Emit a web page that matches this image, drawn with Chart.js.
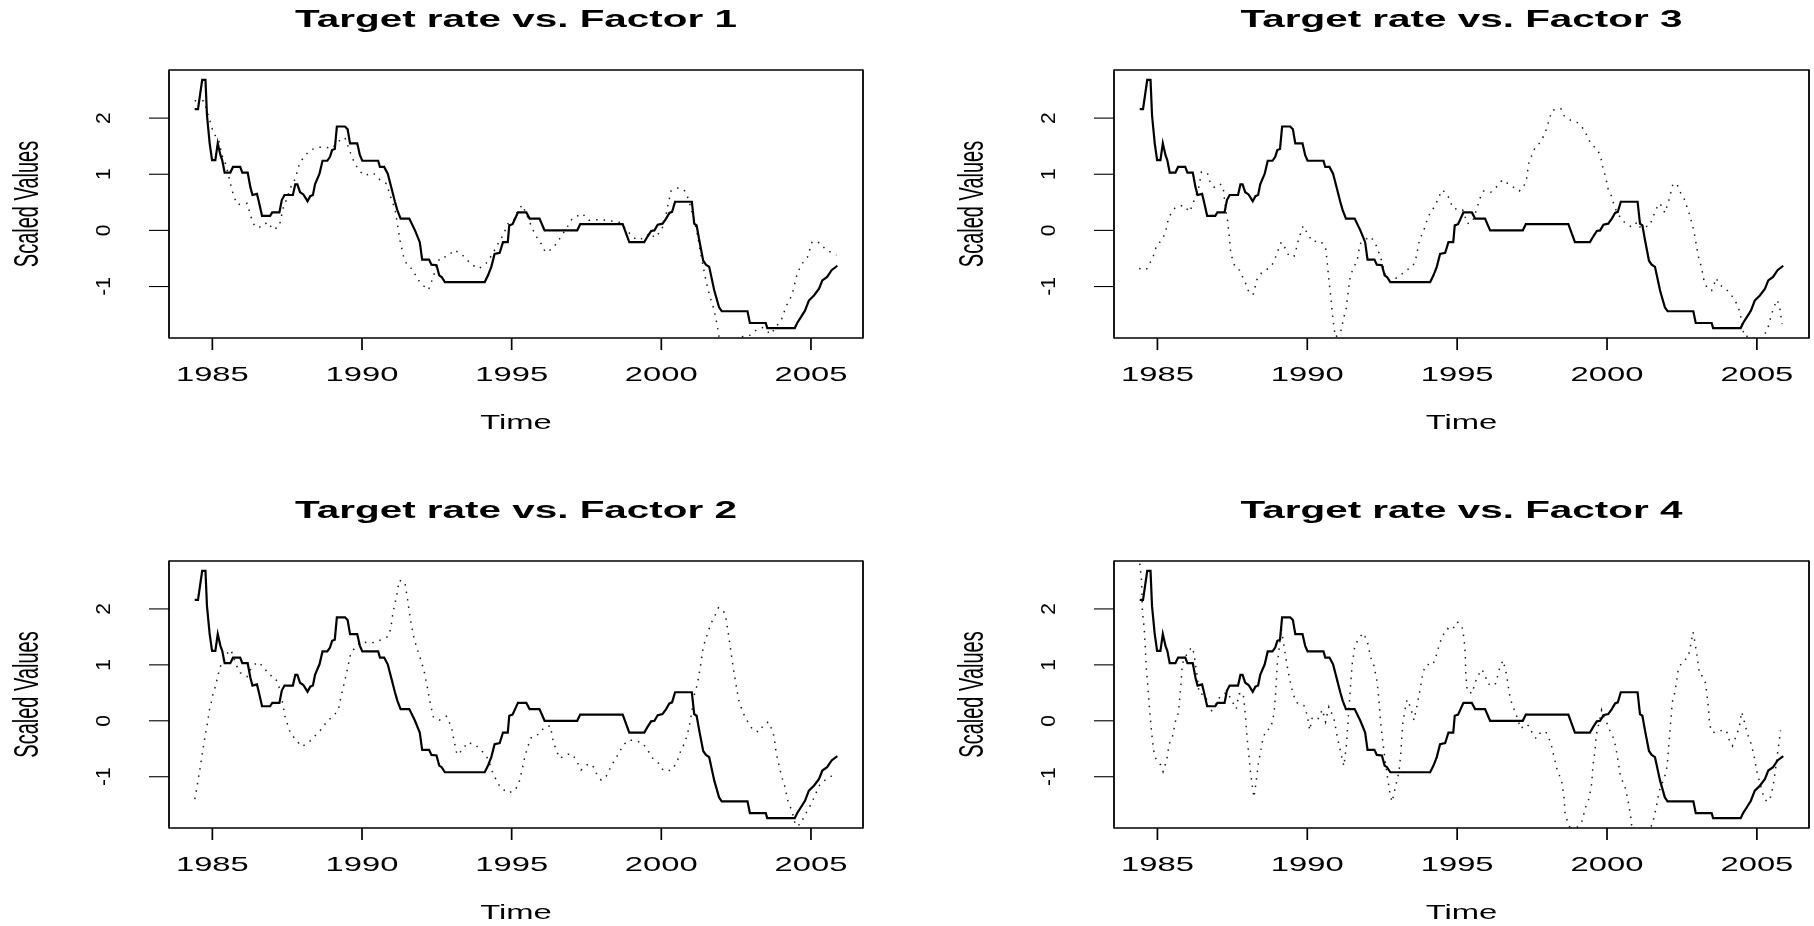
<!DOCTYPE html>
<html>
<head>
<meta charset="utf-8">
<title>Target rate vs. Factors</title>
<script src="https://cdn.jsdelivr.net/npm/chart.js@4/dist/chart.umd.min.js"></script>
<style>
  html, body { margin: 0; padding: 0; background: #fff; }
  #wrap { position: relative; width: 1814px; height: 926px; }
  #wrap canvas { position: absolute; left: 0; top: 0; }
</style>
</head>
<body>
<div id="wrap">
  <canvas id="p1" width="1814" height="926" style="width:1814px;height:926px"></canvas>
  <canvas id="p2" width="1814" height="926" style="width:1814px;height:926px"></canvas>
  <canvas id="p3" width="1814" height="926" style="width:1814px;height:926px"></canvas>
  <canvas id="p4" width="1814" height="926" style="width:1814px;height:926px"></canvas>
</div>
<script>
/* ---------- Data ---------- */
const xTicks = [1985, 1990, 1995, 2000, 2005];
const yTicks = [-1, 0, 1, 2];

const targetYears = [1984.41,1984.52,1984.66,1984.77,1984.82,1984.91,1984.99,1985.10,1985.18,1985.27,1985.33,1985.41,1985.60,1985.69,1985.93,1986.00,1986.18,1986.27,1986.34,1986.49,1986.54,1986.66,1986.93,1987.00,1987.24,1987.32,1987.41,1987.69,1987.77,1987.84,1987.93,1988.04,1988.18,1988.27,1988.36,1988.43,1988.58,1988.68,1988.84,1988.93,1989.00,1989.09,1989.16,1989.43,1989.52,1989.60,1989.84,1989.93,1990.01,1990.54,1990.60,1990.74,1990.86,1990.99,1991.10,1991.18,1991.29,1991.58,1991.77,1991.93,1992.01,1992.24,1992.32,1992.49,1992.58,1992.66,1992.77,1994.10,1994.21,1994.32,1994.43,1994.60,1994.71,1994.87,1994.92,1995.03,1995.21,1995.49,1995.60,1995.93,1996.10,1997.19,1997.29,1998.71,1998.93,1999.43,1999.54,1999.66,1999.77,1999.88,2000.04,2000.16,2000.27,2000.36,2000.46,2001.02,2001.10,2001.18,2001.27,2001.40,2001.49,2001.60,2001.77,2001.93,2002.02,2002.88,2002.96,2003.49,2003.54,2004.46,2004.54,2004.66,2004.80,2004.93,2005.10,2005.27,2005.38,2005.54,2005.69,2005.88];
const targetRate = [2.16,2.16,2.68,2.68,2.05,1.55,1.25,1.25,1.55,1.34,1.25,1.03,1.03,1.13,1.13,1.03,1.03,0.77,0.63,0.65,0.54,0.26,0.26,0.32,0.32,0.54,0.63,0.63,0.82,0.82,0.68,0.64,0.52,0.61,0.63,0.82,1.01,1.24,1.24,1.31,1.43,1.45,1.85,1.85,1.80,1.55,1.55,1.34,1.24,1.24,1.13,1.13,1.01,0.74,0.51,0.36,0.21,0.21,0.00,-0.21,-0.52,-0.52,-0.61,-0.62,-0.80,-0.83,-0.92,-0.92,-0.80,-0.65,-0.42,-0.40,-0.21,-0.21,0.09,0.11,0.32,0.32,0.21,0.21,0.00,0.00,0.11,0.11,-0.21,-0.21,-0.11,-0.01,0.00,0.10,0.12,0.21,0.31,0.33,0.51,0.51,0.12,0.09,-0.18,-0.54,-0.61,-0.65,-1.07,-1.37,-1.44,-1.44,-1.65,-1.65,-1.74,-1.74,-1.65,-1.55,-1.43,-1.25,-1.16,-1.04,-0.89,-0.83,-0.71,-0.63];

const f1Years = [1984.41,1984.71,1984.88,1985.04,1985.21,1985.32,1985.46,1985.58,1985.71,1985.84,1986.16,1986.32,1986.43,1986.66,1986.84,1987.04,1987.24,1987.36,1987.47,1987.62,1987.77,1987.91,1988.10,1988.32,1988.54,1988.77,1988.99,1989.27,1989.43,1989.60,1989.71,1989.88,1990.07,1990.38,1990.58,1990.82,1990.99,1991.10,1991.18,1991.27,1991.38,1991.49,1991.71,1991.84,1992.04,1992.22,1992.38,1992.49,1992.60,1992.88,1993.07,1993.32,1993.66,1993.91,1994.18,1994.36,1994.51,1994.71,1994.88,1995.04,1995.21,1995.36,1995.58,1995.69,1995.84,1995.99,1996.13,1996.36,1996.54,1996.71,1996.88,1997.02,1997.36,1997.58,1997.88,1998.21,1998.62,1998.80,1999.02,1999.18,1999.47,1999.60,1999.80,1999.99,2000.10,2000.21,2000.32,2000.58,2000.80,2000.91,2001.04,2001.18,2001.24,2001.32,2001.40,2001.49,2001.60,2001.77,2001.88,2001.93,2002.04,2002.27,2002.62,2002.93,2003.21,2003.38,2003.66,2003.82,2004.02,2004.18,2004.36,2004.43,2004.54,2004.69,2004.88,2005.04,2005.29,2005.49,2005.77,2005.85];
const f1Vals = [2.31,2.31,2.02,1.73,1.61,1.34,1.16,0.89,0.61,0.46,0.48,0.19,0.06,0.06,0.15,0.01,0.08,0.39,0.54,0.77,0.92,1.19,1.34,1.44,1.48,1.48,1.46,1.61,1.65,1.40,1.25,1.08,0.98,1.02,0.91,0.83,0.54,0.39,0.12,-0.18,-0.45,-0.60,-0.71,-0.86,-0.98,-1.06,-0.83,-0.63,-0.49,-0.46,-0.35,-0.42,-0.61,-0.68,-0.57,-0.42,-0.27,-0.09,0.12,0.15,0.36,0.45,0.18,0.03,-0.12,-0.24,-0.39,-0.33,-0.20,-0.06,0.08,0.21,0.30,0.18,0.19,0.18,0.14,0.03,-0.10,-0.17,-0.13,-0.05,-0.13,0.00,0.12,0.42,0.70,0.76,0.70,0.55,0.30,0.00,-0.18,-0.42,-0.65,-0.89,-1.13,-1.43,-1.73,-1.89,-2.02,-1.99,-1.90,-1.88,-1.76,-1.73,-1.85,-1.73,-1.58,-1.34,-1.16,-1.01,-0.77,-0.60,-0.48,-0.20,-0.22,-0.34,-0.42,-0.44];

const f2Years = [1984.41,1984.47,1984.54,1984.60,1984.68,1984.77,1984.82,1984.90,1984.96,1985.02,1985.10,1985.18,1985.24,1985.32,1985.47,1985.62,1985.80,1985.93,1986.16,1986.29,1986.49,1986.69,1986.88,1987.10,1987.21,1987.32,1987.43,1987.60,1987.80,1987.99,1988.21,1988.43,1988.66,1988.84,1989.04,1989.21,1989.32,1989.47,1989.62,1989.82,1989.99,1990.32,1990.60,1990.88,1990.96,1991.04,1991.16,1991.24,1991.43,1991.51,1991.62,1991.73,1991.82,1991.93,1992.07,1992.18,1992.27,1992.38,1992.58,1992.82,1992.99,1993.07,1993.18,1993.38,1993.51,1993.77,1994.02,1994.21,1994.38,1994.62,1994.88,1995.10,1995.24,1995.36,1995.43,1995.54,1995.66,1995.91,1996.10,1996.29,1996.40,1996.49,1996.60,1996.88,1997.04,1997.18,1997.32,1997.51,1997.69,1997.82,1997.99,1998.16,1998.29,1998.43,1998.58,1998.71,1998.88,1999.04,1999.36,1999.54,1999.71,1999.91,2000.07,2000.32,2000.51,2000.66,2000.78,2000.86,2000.93,2001.02,2001.10,2001.18,2001.24,2001.32,2001.40,2001.49,2001.58,2001.69,2001.80,2001.91,2002.07,2002.16,2002.24,2002.32,2002.40,2002.49,2002.58,2002.66,2002.77,2002.91,2003.07,2003.27,2003.43,2003.58,2003.69,2003.77,2003.84,2003.97,2004.04,2004.13,2004.24,2004.36,2004.49,2004.66,2004.77,2004.91,2005.04,2005.16,2005.29,2005.49,2005.74];
const f2Vals = [-1.40,-1.24,-1.00,-0.82,-0.52,-0.23,-0.10,0.19,0.32,0.48,0.61,0.79,0.93,1.05,1.19,1.27,0.99,0.86,0.79,0.93,1.05,0.98,0.83,0.77,0.64,0.40,0.07,-0.21,-0.35,-0.46,-0.39,-0.27,-0.14,0.00,0.08,0.20,0.48,0.82,1.20,1.35,1.41,1.39,1.44,1.51,1.65,1.95,2.24,2.51,2.48,2.21,1.80,1.50,1.32,1.15,0.90,0.61,0.34,0.07,0.01,0.08,-0.11,-0.35,-0.61,-0.51,-0.39,-0.42,-0.55,-0.68,-0.95,-1.19,-1.29,-1.25,-1.12,-0.85,-0.67,-0.46,-0.29,-0.24,-0.11,-0.09,-0.39,-0.52,-0.67,-0.60,-0.60,-0.73,-0.88,-0.79,-0.78,-0.93,-1.06,-0.99,-0.85,-0.71,-0.58,-0.45,-0.35,-0.35,-0.39,-0.52,-0.67,-0.76,-0.89,-0.89,-0.76,-0.52,-0.40,-0.26,-0.11,0.16,0.46,0.61,0.76,1.02,1.32,1.47,1.62,1.77,1.89,2.02,1.98,1.83,1.56,1.26,0.96,0.67,0.38,0.25,0.10,-0.04,-0.17,-0.20,-0.06,-0.02,-0.15,-0.29,-0.58,-0.88,-1.03,-1.18,-1.46,-1.60,-1.88,-1.85,-1.71,-1.58,-1.45,-1.30,-1.15,-1.05,-0.97];

const f3Years = [1984.39,1984.63,1984.78,1984.89,1984.97,1985.17,1985.28,1985.33,1985.42,1985.59,1985.86,1986.08,1986.17,1986.28,1986.37,1986.47,1986.67,1986.74,1986.89,1987.06,1987.19,1987.22,1987.28,1987.33,1987.39,1987.44,1987.50,1987.59,1987.74,1987.94,1988.03,1988.19,1988.33,1988.50,1988.70,1988.83,1988.94,1989.13,1989.28,1989.39,1989.56,1989.63,1989.70,1989.86,1990.00,1990.17,1990.44,1990.61,1990.67,1990.72,1990.78,1990.83,1990.89,1990.94,1991.11,1991.22,1991.30,1991.37,1991.44,1991.56,1991.67,1991.76,1991.89,1992.11,1992.28,1992.39,1992.48,1992.59,1992.72,1992.94,1993.17,1993.33,1993.50,1993.61,1993.72,1993.81,1993.92,1994.00,1994.11,1994.26,1994.39,1994.51,1994.68,1994.87,1995.18,1995.34,1995.51,1995.68,1995.76,1995.88,1996.12,1996.34,1996.51,1996.79,1997.07,1997.20,1997.31,1997.38,1997.47,1997.59,1997.79,1997.93,1998.01,1998.09,1998.18,1998.46,1998.57,1998.79,1999.01,1999.23,1999.46,1999.68,1999.79,1999.84,1999.92,1999.98,2000.04,2000.16,2000.23,2000.32,2000.49,2000.68,2000.84,2001.01,2001.12,2001.23,2001.42,2001.51,2001.62,2001.73,2001.84,2001.93,2002.07,2002.20,2002.34,2002.42,2002.57,2002.76,2002.90,2003.04,2003.12,2003.18,2003.23,2003.34,2003.49,2003.60,2003.64,2003.76,2003.96,2004.16,2004.32,2004.42,2004.49,2004.57,2004.82,2005.07,2005.34,2005.49,2005.57,2005.68,2005.76,2005.84];
const f3Vals = [-0.68,-0.70,-0.55,-0.42,-0.27,-0.16,-0.01,0.13,0.27,0.40,0.45,0.33,0.46,0.61,0.74,1.04,1.02,0.88,0.77,0.83,0.79,0.63,0.36,0.21,-0.06,-0.36,-0.51,-0.65,-0.71,-0.94,-1.07,-1.15,-0.86,-0.74,-0.68,-0.61,-0.48,-0.21,-0.33,-0.46,-0.46,-0.33,-0.18,0.08,-0.05,-0.20,-0.19,-0.30,-0.60,-0.88,-1.16,-1.46,-1.73,-1.90,-1.82,-1.55,-1.38,-1.07,-0.80,-0.65,-0.52,-0.24,-0.18,-0.11,-0.24,-0.40,-0.54,-0.77,-0.89,-0.86,-0.77,-0.70,-0.65,-0.54,-0.23,-0.09,0.05,0.19,0.33,0.43,0.60,0.72,0.63,0.39,0.37,0.12,0.15,0.43,0.57,0.70,0.68,0.79,0.90,0.80,0.70,0.76,0.89,1.18,1.31,1.46,1.58,1.73,1.86,2.01,2.14,2.17,2.04,1.96,1.92,1.80,1.54,1.44,1.31,1.16,1.02,0.88,0.73,0.60,0.45,0.34,0.19,0.10,0.06,0.15,0.04,0.06,0.08,0.21,0.35,0.48,0.43,0.31,0.55,0.83,0.82,0.70,0.57,0.27,-0.01,-0.45,-0.60,-0.74,-0.88,-1.03,-1.07,-0.92,-0.85,-0.97,-1.04,-1.16,-1.30,-1.44,-1.60,-1.88,-1.90,-1.96,-1.79,-1.50,-1.36,-1.24,-1.37,-1.67];

const f4Years = [1984.41,1984.47,1984.50,1984.56,1984.59,1984.63,1984.70,1984.74,1984.81,1984.87,1984.94,1985.11,1985.19,1985.31,1985.39,1985.50,1985.61,1985.70,1985.78,1985.83,1985.94,1986.14,1986.22,1986.28,1986.33,1986.39,1986.59,1986.78,1986.89,1987.11,1987.33,1987.50,1987.63,1987.72,1987.86,1987.94,1988.00,1988.06,1988.11,1988.17,1988.22,1988.30,1988.37,1988.50,1988.61,1988.78,1988.89,1988.94,1989.00,1989.06,1989.13,1989.22,1989.28,1989.37,1989.48,1989.61,1989.78,1989.89,1990.00,1990.08,1990.17,1990.37,1990.50,1990.61,1990.72,1990.89,1991.00,1991.11,1991.22,1991.30,1991.37,1991.44,1991.50,1991.59,1991.72,1991.86,1992.00,1992.11,1992.22,1992.33,1992.39,1992.44,1992.50,1992.56,1992.61,1992.69,1992.76,1992.83,1992.94,1993.06,1993.11,1993.19,1993.28,1993.33,1993.44,1993.56,1993.67,1993.78,1993.86,1994.00,1994.17,1994.28,1994.33,1994.50,1994.67,1994.83,1995.00,1995.16,1995.23,1995.27,1995.29,1995.34,1995.51,1995.57,1995.68,1995.82,1995.93,1996.01,1996.18,1996.29,1996.42,1996.53,1996.62,1996.68,1996.76,1996.84,1996.96,1997.12,1997.29,1997.42,1997.51,1997.64,1997.79,1997.96,1998.12,1998.18,1998.23,1998.34,1998.49,1998.57,1998.60,1998.68,1998.84,1999.16,1999.29,1999.40,1999.49,1999.53,1999.60,1999.64,1999.73,1999.82,1999.90,1999.98,2000.09,2000.20,2000.29,2000.37,2000.46,2000.57,2000.64,2000.71,2000.79,2000.82,2001.18,2001.51,2001.60,2001.68,2001.73,2001.84,2001.96,2002.01,2002.07,2002.12,2002.18,2002.27,2002.31,2002.38,2002.51,2002.71,2002.79,2002.87,2002.93,2003.01,2003.09,2003.18,2003.29,2003.34,2003.38,2003.42,2003.49,2003.62,2003.84,2003.98,2004.07,2004.18,2004.32,2004.42,2004.49,2004.60,2004.68,2004.79,2004.90,2005.01,2005.12,2005.23,2005.34,2005.46,2005.54,2005.62,2005.68,2005.73,2005.79];
const f4Vals = [2.81,2.51,1.95,1.65,1.35,0.93,0.49,0.19,-0.23,-0.52,-0.67,-0.79,-0.91,-0.70,-0.42,-0.29,0.01,0.14,0.61,1.02,1.15,1.32,1.21,0.96,0.79,0.49,0.46,0.16,0.25,0.45,0.51,0.34,0.21,0.48,0.50,0.07,-0.35,-0.67,-0.94,-1.18,-1.37,-1.06,-0.76,-0.38,-0.17,-0.14,0.13,0.46,1.02,1.29,1.65,1.35,1.14,0.85,0.58,0.34,0.28,0.27,0.10,-0.17,0.07,0.04,0.20,-0.02,0.25,0.04,-0.29,-0.55,-0.81,-0.46,0.06,0.61,1.02,1.35,1.47,1.57,1.43,1.14,0.99,0.70,0.37,0.01,-0.29,-0.55,-0.76,-1.06,-1.31,-1.45,-1.19,-0.91,-0.64,-0.02,0.25,0.38,0.25,0.01,0.30,0.61,0.88,1.01,0.99,1.11,1.23,1.51,1.65,1.62,1.77,1.69,1.47,1.20,0.82,0.52,0.49,0.64,0.79,0.92,0.82,0.67,0.62,0.67,0.95,1.08,0.89,0.71,0.43,0.28,0.13,-0.14,-0.06,-0.10,-0.23,-0.32,-0.20,-0.20,-0.39,-0.52,-0.64,-0.88,-1.09,-1.39,-1.65,-1.80,-2.01,-1.80,-1.54,-1.39,-1.12,-0.81,-0.52,-0.26,-0.05,0.19,0.07,-0.02,-0.17,-0.29,-0.46,-0.73,-1.03,-1.12,-1.27,-1.45,-1.71,-1.86,-2.07,-1.86,-1.65,-1.45,-1.27,-1.12,-0.94,-0.79,-0.38,-0.05,0.34,0.52,0.67,0.93,1.05,1.14,1.35,1.59,1.41,1.14,0.82,0.80,0.67,0.43,0.25,-0.05,-0.20,-0.21,-0.17,-0.17,-0.33,-0.45,-0.26,-0.10,0.16,-0.05,-0.23,-0.38,-0.61,-0.94,-1.15,-1.37,-1.45,-1.36,-1.17,-0.88,-0.61,-0.43,-0.17];

const panelTitles = ['Target rate vs. Factor 1', 'Target rate vs. Factor 3', 'Target rate vs. Factor 2', 'Target rate vs. Factor 4'];
const xTitle = 'Time';
const yTitle = 'Scaled Values';

/* ---------- Page geometry ---------- */
const W = 1814, H = 926;
// plot boxes in page pixels: [left, top, right, bottom]
const boxes = [
  [169, 70, 863, 338],
  [1114, 70, 1809, 338],
  [169, 561, 863, 828],
  [1114, 561, 1809, 828]
];

// R style axis range: data range plus 4% on each side
function padRange(arr) {
  const lo = Math.min(...arr), hi = Math.max(...arr), d = (hi - lo) * 0.04;
  return [lo - d, hi + d];
}
const [xMin, xMax] = padRange(targetYears);
const [yMin, yMax] = padRange(targetRate);

const pts = (xs, ys) => xs.map((x, i) => ({ x, y: ys[i] }));

/* ---------- Text helper (the reference text is stretched sideways) ---------- */
function drawText(ctx, text, x, y, font, sx, sy, rot) {
  ctx.save();
  ctx.translate(x, y);
  if (rot) ctx.rotate(rot);
  ctx.scale(sx, sy);
  ctx.font = font;
  ctx.fillStyle = '#000';
  ctx.textAlign = 'center';
  ctx.textBaseline = 'middle';
  ctx.fillText(text, 0, 0);
  ctx.restore();
}

/* ---------- Frame plugin: box, ticks, labels, titles ---------- */
const framePlugin = {
  id: 'rFrame',
  afterDatasetsDraw(chart, args, opts) {
    const { ctx, chartArea: a, scales: { x, y } } = chart;
    ctx.save();
    ctx.strokeStyle = '#000';
    ctx.lineCap = 'butt';

    // box
    ctx.lineWidth = 1.3;
    ctx.beginPath();
    ctx.moveTo(a.left, a.top); ctx.lineTo(a.right, a.top);
    ctx.moveTo(a.left, a.bottom); ctx.lineTo(a.right, a.bottom);
    ctx.stroke();
    ctx.lineWidth = 1.8;
    ctx.beginPath();
    ctx.moveTo(a.left, a.top - 0.6); ctx.lineTo(a.left, a.bottom + 0.6);
    ctx.moveTo(a.right, a.top - 0.6); ctx.lineTo(a.right, a.bottom + 0.6);
    ctx.stroke();

    // x ticks + labels
    ctx.lineWidth = 1.7;
    x.ticks.forEach(t => {
      const px = x.getPixelForValue(t.value);
      ctx.beginPath();
      ctx.moveTo(px, a.bottom);
      ctx.lineTo(px, a.bottom + 12);
      ctx.stroke();
      drawText(ctx, String(t.value), px, a.bottom + 37, '21px "Liberation Sans", Arial, sans-serif', 1.56, 1);
    });

    // y ticks + labels (rotated)
    ctx.lineWidth = 1.1;
    y.ticks.forEach(t => {
      const py = y.getPixelForValue(t.value);
      ctx.beginPath();
      ctx.moveTo(a.left, py);
      ctx.lineTo(a.left - 20, py);
      ctx.stroke();
      drawText(ctx, String(t.value), a.left - 64.5, py, '21px "Liberation Sans", Arial, sans-serif', 1, 1, -Math.PI / 2);
    });
    ctx.restore();

    const cx = (a.left + a.right) / 2, cy = (a.top + a.bottom) / 2;
    drawText(ctx, opts.title, cx, a.top - 49, 'bold 23.5px "Liberation Sans", Arial, sans-serif', 1.72, 1);
    drawText(ctx, xTitle, cx, a.bottom + 85, '21px "Liberation Sans", Arial, sans-serif', 1.56, 1);
    drawText(ctx, yTitle, a.left - 140.5, cy, '20px "Liberation Sans", Arial, sans-serif', 1, 1.75, -Math.PI / 2);
  }
};

/* ---------- Panels ---------- */
const factorYears = [f1Years, f3Years, f2Years, f4Years];
const factorVals  = [f1Vals, f3Vals, f2Vals, f4Vals];

function makePanel(i) {
  const [left, top, right, bottom] = boxes[i];
  return new Chart(document.getElementById('p' + (i + 1)), {
    type: 'line',
    data: {
      datasets: [
        {
          label: 'Target rate',
          data: pts(targetYears, targetRate),
          borderColor: '#000',
          borderWidth: 2.2,
          pointRadius: 0,
          tension: 0,
          clip: 1
        },
        {
          label: 'Factor',
          data: pts(factorYears[i], factorVals[i]),
          borderColor: '#1a1a1a',
          borderWidth: 1.5,
          borderDash: [1.5, 6],
          pointRadius: 0,
          tension: 0,
          clip: 0
        }
      ]
    },
    options: {
      responsive: false,
      animation: false,
      events: [],
      parsing: false,
      layout: { padding: { left: 0, top: top, right: W - right, bottom: 0 } },
      plugins: {
        legend: { display: false },
        tooltip: { enabled: false },
        rFrame: { title: panelTitles[i] }
      },
      scales: {
        x: {
          type: 'linear',
          min: xMin,
          max: xMax,
          afterBuildTicks: s => { s.ticks = xTicks.map(v => ({ value: v })); },
          afterFit: s => { s.height = H - bottom; },
          ticks: { display: false },
          grid: { display: false },
          border: { display: false }
        },
        y: {
          type: 'linear',
          min: yMin,
          max: yMax,
          afterBuildTicks: s => { s.ticks = yTicks.map(v => ({ value: v })); },
          afterFit: s => { s.width = left; },
          ticks: { display: false },
          grid: { display: false },
          border: { display: false }
        }
      }
    },
    plugins: [framePlugin]
  });
}

[0, 1, 2, 3].forEach(makePanel);
</script>
</body>
</html>
